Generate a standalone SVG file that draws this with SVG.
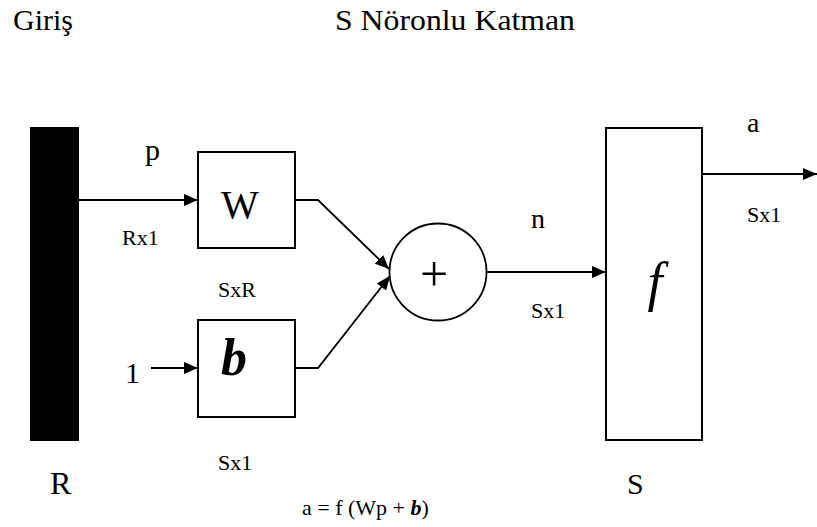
<svg xmlns="http://www.w3.org/2000/svg" width="817" height="527" viewBox="0 0 817 527">
<style>
text{font-family:"Liberation Serif","Times New Roman",Times,"Nimbus Roman","Nimbus Roman No9 L",FreeSerif,"Noto Serif","DejaVu Serif",Tinos,serif;fill:#000}
.box{fill:#fff;stroke:#000;stroke-width:2}
.ln{fill:none;stroke:#000;stroke-width:1.8}
.lab{font-size:22px}
.big{font-size:30px}
</style>
<defs>
<marker id="ah" viewBox="0 0 14 12" refX="14" refY="6" markerWidth="14" markerHeight="12" markerUnits="userSpaceOnUse" orient="auto">
<path d="M0,0 L14,6 L0,12 Z" fill="#000"/>
</marker>
</defs>
<rect width="817" height="527" fill="#fff"/>
<g id="titles">
<text class="big" x="13" y="30">Giriş</text>
<text class="big" x="335" y="30" textLength="240" lengthAdjust="spacingAndGlyphs">S Nöronlu Katman</text>
</g>
<g id="connectors">
<line class="ln" x1="79" y1="200" x2="198" y2="200" marker-end="url(#ah)"/>
<line class="ln" x1="151" y1="368" x2="198" y2="368" marker-end="url(#ah)"/>
<polyline class="ln" points="295,200 318,200 389,269" marker-end="url(#ah)"/>
<polyline class="ln" points="295,368 318,368 390,276" marker-end="url(#ah)"/>
<line class="ln" x1="487" y1="272" x2="606" y2="272" marker-end="url(#ah)"/>
<line class="ln" x1="702" y1="174" x2="817" y2="174" marker-end="url(#ah)"/>
</g>
<g id="input">
<rect x="30" y="127" width="49" height="314" fill="#000"/>
<text x="50" y="494" style="font-size:32px">R</text>
<text x="145" y="160" class="big">p</text>
<text x="122" y="245" class="lab">Rx1</text>
<text x="125" y="383" class="big">1</text>
</g>
<g id="weights">
<rect class="box" x="198" y="152" width="97" height="96"/>
<text x="240" y="218" text-anchor="middle" style="font-size:40px">W</text>
<text x="218" y="297" class="lab">SxR</text>
</g>
<g id="bias">
<rect class="box" x="198" y="320" width="97" height="97"/>
<text x="234" y="375" text-anchor="middle" style="font-size:52px;font-weight:bold;font-style:italic">b</text>
<text x="218" y="470" class="lab">Sx1</text>
</g>
<g id="sum">
<circle cx="438" cy="272" r="48.5" fill="#fff" stroke="#000" stroke-width="1.8"/>
<text x="434" y="291" text-anchor="middle" style="font-size:50px">+</text>
<text x="531" y="228" style="font-size:28px">n</text>
<text x="531" y="318" class="lab">Sx1</text>
</g>
<g id="transfer">
<rect class="box" x="606" y="128" width="96" height="312"/>
<text x="655" y="300" text-anchor="middle" style="font-size:54px;font-style:italic">f</text>
<text x="627" y="494" style="font-size:30px">S</text>
<text x="747" y="132" style="font-size:28px">a</text>
<text x="747" y="222" class="lab">Sx1</text>
</g>
<g id="formula">
<text x="302" y="515" style="font-size:22px" xml:space="preserve">a = f (Wp + <tspan style="font-weight:bold;font-style:italic">b</tspan>)</text>
</g>
</svg>
